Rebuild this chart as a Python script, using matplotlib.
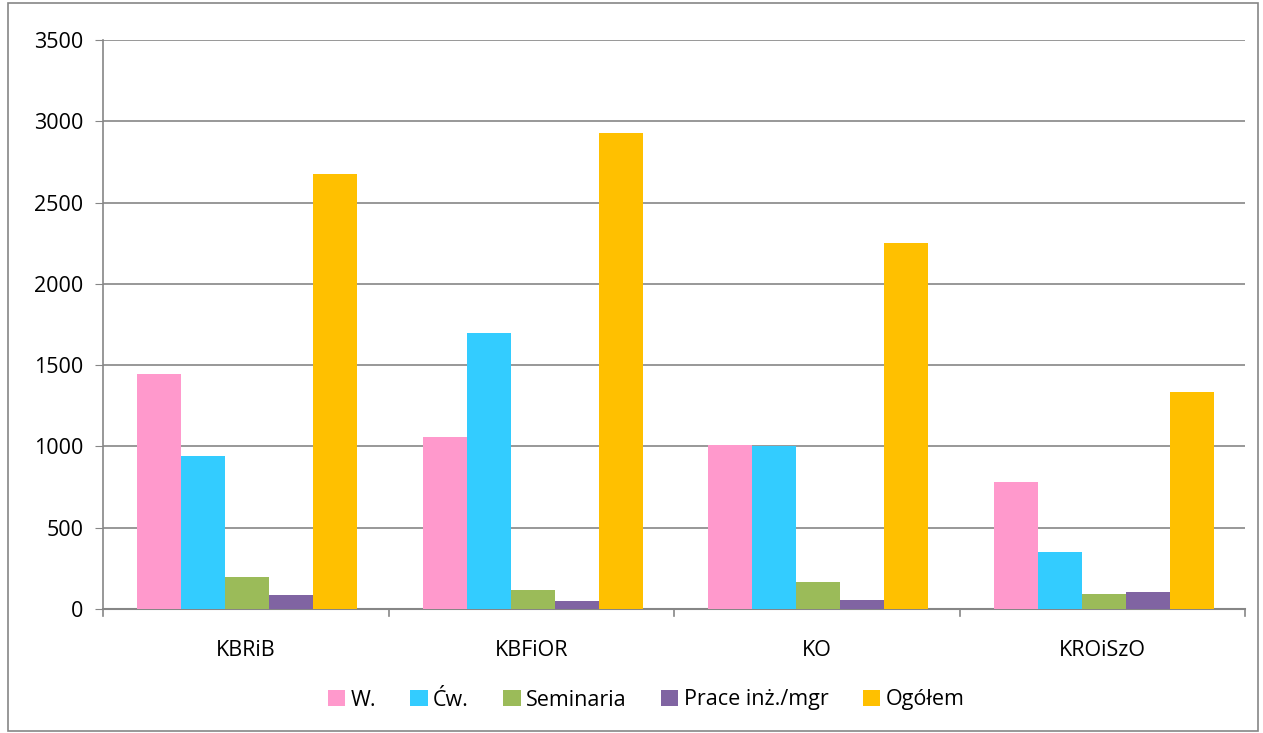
import numpy as np
import matplotlib.pyplot as plt
from matplotlib.patches import Rectangle

plt.rcParams['font.family'] = ['Open Sans', 'DejaVu Sans']

categories = ['KBRiB', 'KBFiOR', 'KO', 'KROiSzO']
series = ['W.', 'Ćw.', 'Seminaria', 'Prace inż./mgr', 'Ogółem']
w_vals = [1445, 1058, 1009, 781]
cw_vals = [941, 1698, 1003, 351]
sem_vals = [198, 114, 168, 94]
prace_vals = [86, 51, 57, 105]
ogolem_vals = [2676, 2928, 2251, 1335]
colors = ['#FF99CC', '#33CCFF', '#9BBB59', '#8064A2', '#FFC000']
yticks = [0, 500, 1000, 1500, 2000, 2500, 3000, 3500]

data = [w_vals, cw_vals, sem_vals, prace_vals, ogolem_vals]

fig = plt.figure(figsize=(12.63, 7.33), dpi=100)
ax = fig.add_axes([103 / 1263, 1 - 609 / 733, 1142 / 1263, 569 / 733])

x = np.arange(len(categories))
bw = 0.154
for i, (vals, name, c) in enumerate(zip(data, series, colors)):
    ax.bar(x + (i - 2) * bw + 0.005, vals, bw, color=c, label=name, zorder=3)

ax.set_xlim(-0.5, len(categories) - 0.5)
ax.set_ylim(0, 3500)
ax.set_yticks(yticks)
ax.set_yticklabels([str(v) for v in yticks], fontsize=15.5)
ax.set_xticks(x)
ax.set_xticklabels(categories, fontsize=15.5)
ax.tick_params(axis='x', length=0, pad=22)
ax.tick_params(axis='y', length=6, color='#868686', pad=8)
# category separators below the axis
for b in np.arange(-0.5, len(categories), 1.0):
    ax.plot([b, b], [0, -40], color='#868686', lw=1.2, clip_on=False, zorder=4)

ax.grid(axis='y', color='#868686', lw=1.2, zorder=0)
for s in ['top', 'right']:
    ax.spines[s].set_visible(False)
ax.spines['left'].set_color('#868686')
ax.spines['bottom'].set_color('#868686')
ax.spines['left'].set_linewidth(1.2)
ax.spines['bottom'].set_linewidth(1.5)

leg = fig.legend(loc='center', bbox_to_anchor=(646 / 1263, 1 - 700 / 733), ncol=5,
                 frameon=False, fontsize=15.5, handlelength=0.8, handleheight=0.8,
                 handletextpad=0.25, columnspacing=1.6)

fig.patches.append(Rectangle((8 / 1263, 2 / 733), 1250 / 1263, 728 / 733,
                             transform=fig.transFigure, fill=False,
                             edgecolor='#868686', lw=1.2))

fig.savefig('out.png', dpi=100)
